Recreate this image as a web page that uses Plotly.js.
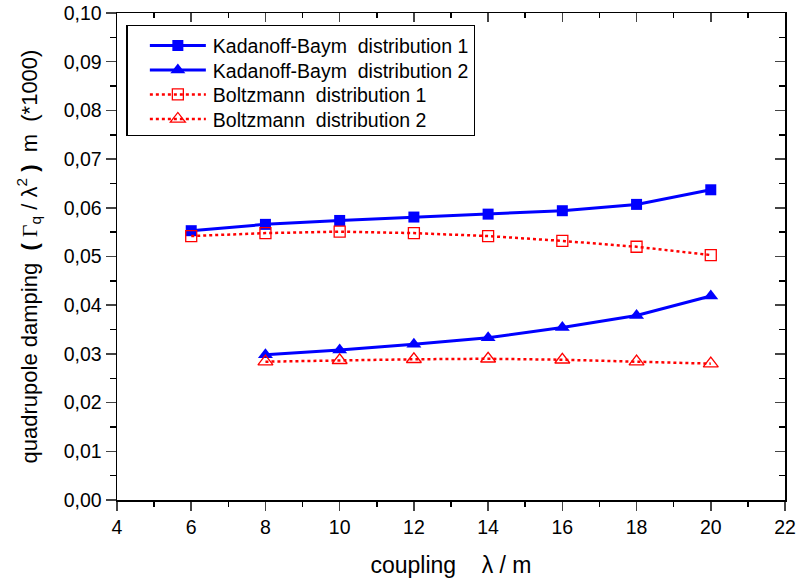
<!DOCTYPE html>
<html><head><meta charset="utf-8">
<script src="https://cdn.plot.ly/plotly-3.0.1.min.js"></script>
<style>html,body{margin:0;padding:0;background:#fff}#plot{width:796px;height:581px}</style>
</head><body><div id="plot"></div>
<script>
const coupling1 = [6, 8, 10, 12, 14, 16, 18, 20];
const coupling2 = [8, 10, 12, 14, 16, 18, 20];
const kb1 = [0.0553, 0.0566, 0.0574, 0.0581, 0.0587, 0.0594, 0.0607, 0.0637];
const kb2 = [0.0298, 0.0308, 0.0320, 0.0333, 0.0354, 0.0379, 0.0419];
const boltz1 = [0.0542, 0.0548, 0.0551, 0.0548, 0.0542, 0.0532, 0.0520, 0.0503];
const boltz2 = [0.0284, 0.0287, 0.0289, 0.0290, 0.0288, 0.0284, 0.0280];
const names = ['Kadanoff-Baym\u00a0 distribution 1', 'Kadanoff-Baym\u00a0 distribution 2',
               'Boltzmann\u00a0 distribution 1', 'Boltzmann\u00a0 distribution 2'];
const blue = '#0000ff', red = '#ff0000';
const traces = [
  {x: coupling1, y: kb1, name: names[0], mode: 'lines+markers',
   line: {color: blue, width: 3}, marker: {symbol: 'square', size: 11, color: blue}},
  {x: coupling2, y: kb2, name: names[1], mode: 'lines+markers',
   line: {color: blue, width: 3}, marker: {symbol: 'triangle-up', size: 13, color: blue}},
  {x: coupling1, y: boltz1, name: names[2], mode: 'lines+markers',
   line: {color: red, width: 2.5, dash: 'dot'}, marker: {symbol: 'square-open', size: 11, color: red, line: {width: 1.3}}},
  {x: coupling2, y: boltz2, name: names[3], mode: 'lines+markers',
   line: {color: red, width: 2.5, dash: 'dot'}, marker: {symbol: 'triangle-up-open', size: 13, color: red, line: {width: 1.3}}}
];
const font = {family: 'Liberation Sans, Arial, sans-serif', color: '#000'};
const layout = {
  width: 796, height: 581,
  margin: {l: 117, r: 11, t: 13, b: 81},
  separators: ',.',
  paper_bgcolor: '#fff', plot_bgcolor: '#fff',
  font: font,
  showlegend: true,
  legend: {x: 0.014, y: 0.982, xanchor: 'left', yanchor: 'top',
    bordercolor: '#000', borderwidth: 1.5, bgcolor: '#fff',
    font: {family: font.family, size: 19.5}, itemwidth: 75, tracegroupgap: 0},
  xaxis: {range: [4, 22], dtick: 2, tick0: 4, ticks: 'outside', ticklen: 9, tickwidth: 1.5,
    showline: true, linewidth: 1.5, linecolor: '#000', showgrid: false, zeroline: false,
    tickfont: {size: 19.5},
    minor: {dtick: 1, ticks: 'outside', ticklen: 5, tickwidth: 1.5, tickcolor: '#000', showgrid: false},
    title: {text: 'coupling \u00a0 \u00a0\u03bb / m', font: {size: 23}, standoff: 20}},
  yaxis: {range: [0, 0.1], dtick: 0.01, tick0: 0, tickformat: '.2f', ticks: 'outside', ticklen: 10, tickwidth: 1.5,
    showline: true, linewidth: 1.5, linecolor: '#000', showgrid: false, zeroline: false,
    tickfont: {size: 19.5},
    minor: {dtick: 0.005, ticks: 'outside', ticklen: 6, tickwidth: 1.5, tickcolor: '#000', showgrid: false},
    title: {text: 'quadrupole damping \u00a0<b>(</b> <span style="font-family:Liberation Serif">\u0393</span><sub>q</sub> / \u03bb<sup>2</sup> <b>)</b> \u00a0m \u00a0(*1000)', font: {size: 22}, standoff: 20}},
  xaxis2: {overlaying: 'x', side: 'top', range: [4, 22], dtick: 2, tick0: 4, ticks: 'inside', ticklen: 9, tickwidth: 1.5,
    showticklabels: false, showline: true, linewidth: 1.5, linecolor: '#000', showgrid: false, zeroline: false,
    minor: {dtick: 1, ticks: 'inside', ticklen: 5, tickwidth: 1.5, tickcolor: '#000', showgrid: false}},
  yaxis2: {overlaying: 'y', side: 'right', range: [0, 0.1], dtick: 0.01, tick0: 0, ticks: 'inside', ticklen: 10, tickwidth: 1.5,
    showticklabels: false, showline: true, linewidth: 1.5, linecolor: '#000', showgrid: false, zeroline: false,
    minor: {dtick: 0.005, ticks: 'inside', ticklen: 6, tickwidth: 1.5, tickcolor: '#000', showgrid: false}}
};
traces.push({x: [4], y: [0], xaxis: 'x2', yaxis: 'y2', showlegend: false, mode: 'markers', marker: {opacity: 0}, hoverinfo: 'skip'});
function adjustLegend() {
  const items = Array.from(document.querySelectorAll('.legend .traces'));
  const pos = items.map(function (g) {
    const m = /translate\(([-\d.]+)[ ,]+([-\d.]+)\)/.exec(g.getAttribute('transform') || '');
    return m ? [parseFloat(m[1]), parseFloat(m[2])] : [0, 0];
  });
  const rowGap = 24.5, topShift = 3;
  items.forEach(function (g, i) {
    g.setAttribute('transform', 'translate(' + pos[i][0] + ',' + (pos[0][1] + topShift + i * rowGap) + ')');
    g.querySelectorAll('.legendlines path').forEach(function (p) { p.setAttribute('d', 'M22,0h56'); });
    g.querySelectorAll('.legendpoints path').forEach(function (p) { p.setAttribute('transform', 'translate(50,0)'); });
  });
  const bg = document.querySelector('.legend .bg');
  if (bg && items.length > 1) {
    const h = parseFloat(bg.getAttribute('height'));
    const y = parseFloat(bg.getAttribute('y') || '0');
    const oldGap = pos[1][1] - pos[0][1];
    bg.setAttribute('y', y + 3);
    bg.setAttribute('height', h - (items.length - 1) * (oldGap - rowGap) - 4);
  }
}
Plotly.newPlot('plot', traces, layout, {staticPlot: true}).then(adjustLegend);
</script></body></html>
